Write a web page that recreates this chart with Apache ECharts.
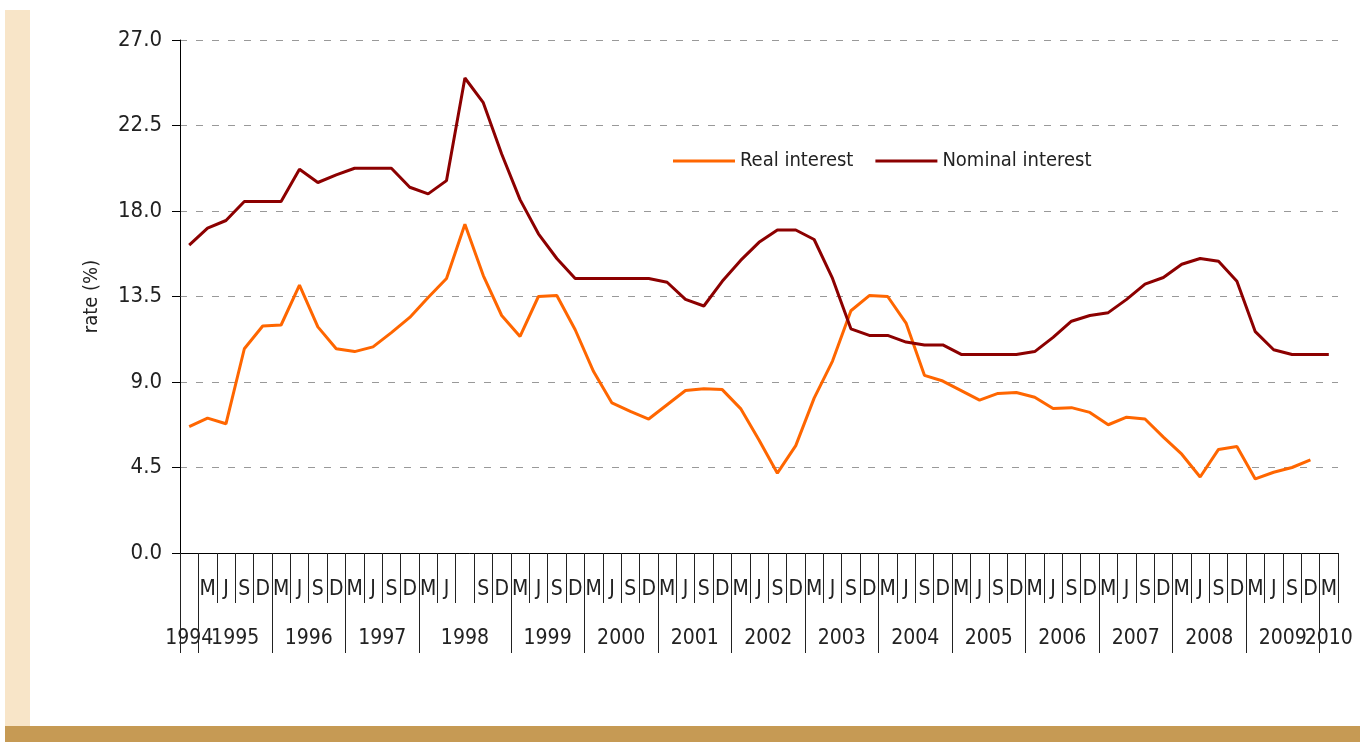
<!DOCTYPE html>
<html>
<head>
<meta charset="utf-8">
<title>Real and nominal interest</title>
<script src="https://cdn.jsdelivr.net/npm/echarts@6/dist/echarts.min.js"></script>
<style>
body { margin: 0; background: #fff; }
.page { position: relative; width: 1360px; height: 742px; overflow: hidden; background: #fff; }
.side_strip { position: absolute; left: 5px; top: 10px; width: 25px; height: 716px; background: #f8e5c8; }
.bottom_bar { position: absolute; left: 5px; top: 726px; width: 1355px; height: 16px; background: #c69a54; }
#chart { position: absolute; left: 0; top: 0; width: 1360px; height: 742px; }
</style>
</head>
<body>
<div class="page">
  <div class="side_strip"></div>
  <div class="bottom_bar"></div>
  <div id="chart"></div>
</div>
<script>
// quarter labels, one per category (1994 has only one point, 1998 has five)
var quarterLabels = ['',
  'M', 'J', 'S', 'D', 'M', 'J', 'S', 'D', 'M', 'J', 'S', 'D',
  'M', 'J', '', 'S', 'D',
  'M', 'J', 'S', 'D', 'M', 'J', 'S', 'D', 'M', 'J', 'S', 'D', 'M', 'J', 'S', 'D',
  'M', 'J', 'S', 'D', 'M', 'J', 'S', 'D', 'M', 'J', 'S', 'D', 'M', 'J', 'S', 'D',
  'M', 'J', 'S', 'D', 'M', 'J', 'S', 'D', 'M', 'J', 'S', 'D',
  'M']
var yearLabels = ['1994', '1995', '1996', '1997', '1998', '1999', '2000', '2001', '2002',
  '2003', '2004', '2005', '2006', '2007', '2008', '2009', '2010']
// number of categories under each year
var yearSpans = [1, 4, 4, 4, 5, 4, 4, 4, 4, 4, 4, 4, 4, 4, 4, 4, 1]

var realInterest = [6.65, 7.1, 6.8, 10.75, 11.95, 12.0, 14.1, 11.9, 10.75, 10.6, 10.85, 11.6,
  12.4, 13.45, 14.45, 17.3, 14.6, 12.5, 11.4, 13.5, 13.55, 11.75, 9.55, 7.9, 7.45, 7.05,
  7.8, 8.55, 8.65, 8.6, 7.6, 5.95, 4.2, 5.65, 8.15, 10.1, 12.75, 13.55, 13.5, 12.1, 9.35,
  9.05, 8.55, 8.05, 8.4, 8.45, 8.2, 7.6, 7.65, 7.4, 6.75, 7.15, 7.05, 6.1, 5.2, 4.0, 5.45,
  5.6, 3.9, 4.25, 4.5, 4.9, null]
var nominalInterest = [16.2, 17.1, 17.5, 18.5, 18.5, 18.5, 20.2, 19.5, 19.9, 20.25, 20.25,
  20.25, 19.25, 18.9, 19.6, 25.0, 23.7, 21.0, 18.6, 16.8, 15.5, 14.45, 14.45, 14.45, 14.45,
  14.45, 14.25, 13.35, 13.0, 14.3, 15.4, 16.35, 17.0, 17.0, 16.5, 14.45, 11.8, 11.45, 11.45,
  11.1, 10.95, 10.95, 10.45, 10.45, 10.45, 10.45, 10.6, 11.35, 12.2, 12.5, 12.65, 13.35,
  14.15, 14.5, 15.2, 15.5, 15.35, 14.3, 11.65, 10.7, 10.45, 10.45, 10.45]

var FONT = "'Liberation Sans Narrow', 'Arial Narrow', 'DejaVu Sans Condensed', sans-serif"

// year boundaries and label centres on a 0..n value scale
var yearStarts = []
var yearCentres = []
var pos = 0
for (var i = 0; i < yearSpans.length; i++) {
  yearStarts.push(pos)
  yearCentres.push(pos + yearSpans[i] / 2)
  pos += yearSpans[i]
}

// year row is split over two axes (odd / even years) so that the
// touching labels 1994|1995 and 2009|2010 are not hidden as overlapping
function yearAxis (parity, withTicks) {
  var centres = yearCentres.filter(function (c, k) { return k % 2 === parity })
  return {
    type: 'value',
    position: 'bottom',
    min: 0,
    max: quarterLabels.length,
    axisLine: { show: false },
    splitLine: { show: false },
    axisTick: {
      show: withTicks,
      length: 100,
      customValues: yearStarts,
      lineStyle: { color: '#222' }
    },
    axisLabel: {
      margin: 75,
      customValues: centres,
      hideOverlap: false,
      fontFamily: FONT,
      fontSize: 21,
      color: '#222',
      formatter: function (value) {
        var idx = yearCentres.indexOf(value)
        return idx >= 0 ? yearLabels[idx] : ''
      }
    }
  }
}

var myChart = echarts.init(document.getElementById('chart'))
var option = {
  animation: false,
  grid: { left: 180, right: 22, top: 40, bottom: 189 },
  legend: {
    left: 668,
    top: 146,
    icon: 'rect',
    itemWidth: 62,
    itemHeight: 3,
    itemGap: 22,
    textStyle: { fontFamily: FONT, fontSize: 20, color: '#222' },
    data: ['Real interest', 'Nominal interest']
  },
  xAxis: [
    {
      type: 'category',
      position: 'bottom',
      data: quarterLabels,
      boundaryGap: true,
      axisLine: { show: true, lineStyle: { color: '#000', width: 1 } },
      axisTick: { show: true, interval: 0, length: 50, lineStyle: { color: '#222' } },
      axisLabel: { interval: 0, margin: 26, fontFamily: FONT, fontSize: 21, color: '#222' },
      splitLine: { show: false }
    },
    yearAxis(0, true),
    yearAxis(1, false)
  ],
  yAxis: {
    type: 'value',
    min: 0,
    max: 27,
    interval: 4.5,
    name: 'rate (%)',
    nameLocation: 'middle',
    nameRotate: 90,
    nameGap: 78,
    nameTextStyle: { fontFamily: FONT, fontSize: 20, color: '#222' },
    axisLine: { show: true, lineStyle: { color: '#000', width: 1 } },
    axisTick: { show: true, length: 8, lineStyle: { color: '#000' } },
    axisLabel: {
      margin: 18,
      fontFamily: FONT,
      fontSize: 22,
      color: '#222',
      formatter: function (v) { return v.toFixed(1) }
    },
    splitLine: { show: true, lineStyle: { color: '#999', type: [7, 9], width: 1 } }
  },
  series: [
    {
      name: 'Real interest',
      type: 'line',
      data: realInterest,
      symbol: 'none',
      lineStyle: { color: '#ff6600', width: 3 },
      itemStyle: { color: '#ff6600' }
    },
    {
      name: 'Nominal interest',
      type: 'line',
      data: nominalInterest,
      symbol: 'none',
      lineStyle: { color: '#8c0000', width: 3 },
      itemStyle: { color: '#8c0000' }
    }
  ]
}
myChart.setOption(option)
</script>
</body>
</html>
